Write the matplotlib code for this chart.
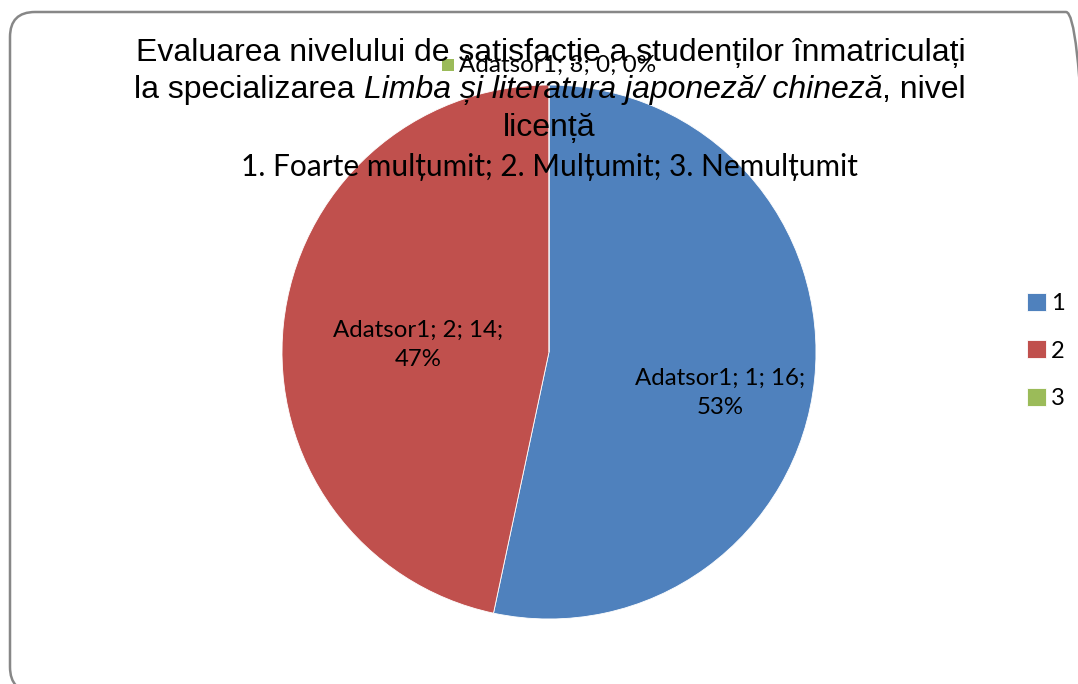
import numpy as np
import matplotlib.pyplot as plt
import matplotlib.patches as mpatches
from matplotlib.transforms import IdentityTransform

# Data
categories = ["1", "2", "3"]
values = [16, 14, 0]
series_name = "Adatsor1"
colors = ["#4F81BD", "#C0504D", "#9BBB59"]

title_line1 = "Evaluarea nivelului de satisfacție a studenților înmatriculați"
title_line2 = ["la specializarea ", "Limba și literatura japoneză/ chineză", ", nivel"]
title_line3 = "licență"
subtitle = "1. Foarte mulțumit; 2. Mulțumit; 3. Nemulțumit"

W, H = 1078, 684
TITLE_FONT = ["Liberation Sans", "DejaVu Sans"]
BODY_FONT = ["Lato", "Noto Sans", "DejaVu Sans"]

fig = plt.figure(figsize=(W / 100, H / 100), dpi=100)
fig.patch.set_facecolor("white")
renderer = fig.canvas.get_renderer()

# rounded frame around the chart area (runs off the right/bottom edge)
frame = mpatches.FancyBboxPatch((10, H - 692), 1081, 680,
                                boxstyle="round,pad=0,rounding_size=25",
                                facecolor="none", edgecolor="#878787",
                                linewidth=1.8, transform=IdentityTransform())
fig.add_artist(frame)

# pie axes: centre (549, 352), radius 267 px
cx, cy, R = 549, 352, 267
ax = fig.add_axes([(cx - R) / W, (H - cy - R) / H, 2 * R / W, 2 * R / H])
wedges, _ = ax.pie(values, colors=colors, startangle=90, counterclock=False,
                   radius=1, wedgeprops=dict(linewidth=0.6, edgecolor="white"))
ax.set_xlim(-1, 1)
ax.set_ylim(-1, 1)
ax.set_aspect("equal")
ax.axis("off")

total = sum(values)
px = 1 / R  # one pixel in pie units
# data labels: (radius fraction, angle shift in degrees)
label_place = [(0.66, -7.5), (0.49, 3)]
for i, w in enumerate(wedges):
    pct = round(100 * values[i] / total)
    txt = f"{series_name}; {categories[i]}; {values[i]};"
    mid = np.deg2rad((w.theta1 + w.theta2) / 2)
    if values[i] > 0:
        r, shift = label_place[i]
        a = mid + np.deg2rad(shift)
        ax.text(r * np.cos(a), r * np.sin(a), f"{txt}\n{pct}%", ha="center",
                va="center", fontsize=17.3, family=BODY_FONT, linespacing=1.45)
    else:
        # zero slice: label sits outside the pie with a colour key
        x, y = 1.072 * np.cos(mid), 1.072 * np.sin(mid)
        t = ax.text(0, y, f"{txt} {pct}%", ha="left", va="center",
                    fontsize=17.5, family=BODY_FONT, zorder=3)
        tw = t.get_window_extent(renderer).width
        left = x - (12 + 5 + tw) / 2 * px
        t.set_x(left + 17 * px)
        ax.add_patch(mpatches.Rectangle((left, y - 5 * px), 12 * px, 12 * px,
                                        facecolor=colors[i], edgecolor="none",
                                        clip_on=False, zorder=3))

# title
fs_title = 23
fig.text(551 / W, (H - 61) / H, title_line1, ha="center", va="baseline",
         fontsize=fs_title, family=TITLE_FONT, zorder=5)
parts = []
for k, s in enumerate(title_line2):
    t = fig.text(0, (H - 98) / H, s, ha="left", va="baseline", fontsize=fs_title,
                 family=TITLE_FONT, style="italic" if k == 1 else "normal", zorder=5)
    parts.append(t)
widths = [p.get_window_extent(renderer).width for p in parts]
x0 = 550 - sum(widths) / 2
for p, wd in zip(parts, widths):
    p.set_x(x0 / W)
    x0 += wd
fig.text(549 / W, (H - 136) / H, title_line3, ha="center", va="baseline",
         fontsize=fs_title, family=TITLE_FONT, zorder=5)
fig.text(549 / W, (H - 176) / H, subtitle, ha="center", va="baseline",
         fontsize=21.5, family=BODY_FONT, zorder=5)

# legend
fig.legend(wedges, categories, loc="center left",
           bbox_to_anchor=(1027 / W, (H - 351) / H), frameon=False,
           prop=dict(family=BODY_FONT, size=17), handlelength=0.8,
           handleheight=0.8, handletextpad=0.2, labelspacing=1.1,
           borderpad=0, borderaxespad=0)

fig.savefig("out.png", dpi=100)
